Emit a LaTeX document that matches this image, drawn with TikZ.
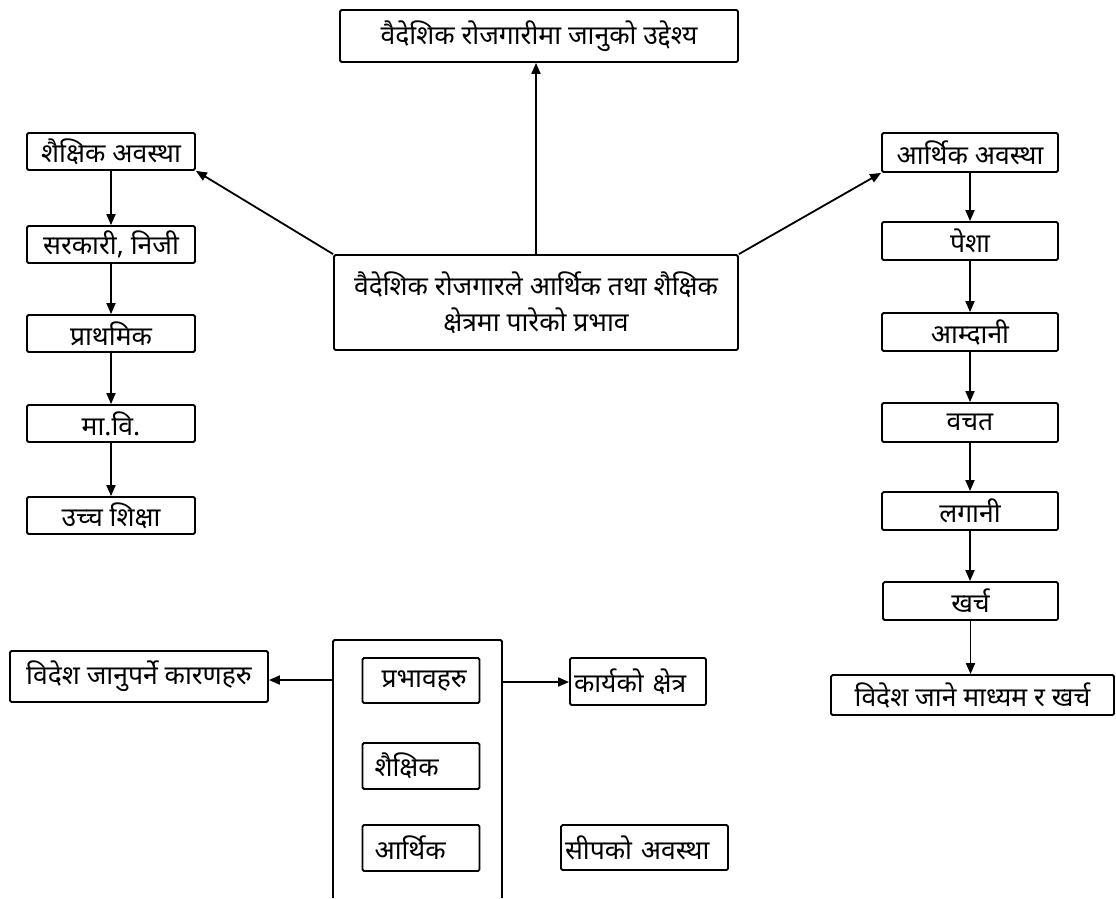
\documentclass[tikz,border=0pt]{standalone}
\usepackage{fontspec}
\newfontfamily\dev[Script=Devanagari]{Noto Sans}
\usetikzlibrary{arrows.meta}
\begin{document}
\begin{tikzpicture}[x=1pt,y=-1pt,
  box/.style={draw, line width=1.8pt, rounded corners=1.5pt, inner sep=0pt, font=\dev\fontsize{26.5}{36}\selectfont},
  lbox/.style={box, align=left, text width=#1},
  arr/.style={line width=1.8pt, -{Triangle[length=11pt,width=9pt]}},
  ln/.style={line width=1.8pt}]
\useasboundingbox (0,0) rectangle (1116,898);
% top and centre
\node[box, minimum width=398pt, minimum height=52pt] (top) at (539,36) {वैदेशिक रोजगारीमा जानुको उद्देश्य};
\node[box, minimum width=404pt, minimum height=95pt, align=center] (cen) at (536,302.5) {वैदेशिक रोजगारले आर्थिक तथा शैक्षिक\\क्षेत्रमा पारेको प्रभाव};
% left chain
\node[box, minimum width=168pt, minimum height=37pt] (l1) at (111,151.5) {शैक्षिक अवस्था};
\node[box, minimum width=168pt, minimum height=37pt] (l2) at (111,244.5) {सरकारी, निजी};
\node[box, minimum width=168pt, minimum height=37pt] (l3) at (111,333.5) {प्राथमिक};
\node[box, minimum width=168pt, minimum height=37pt] (l4) at (111,423.5) {मा.वि.};
\node[box, minimum width=168pt, minimum height=37pt] (l5) at (111,515.5) {उच्च शिक्षा};
% right chain
\node[box, minimum width=176pt, minimum height=39pt] (r1) at (970,152.5) {आर्थिक अवस्था};
\node[box, minimum width=176pt, minimum height=38pt] (r2) at (970,241) {पेशा};
\node[box, minimum width=176pt, minimum height=38pt] (r3) at (970,332) {आम्दानी};
\node[box, minimum width=176pt, minimum height=39pt] (r4) at (970,422.5) {वचत};
\node[box, minimum width=176pt, minimum height=38pt] (r5) at (970,511) {लगानी};
\node[box, minimum width=175pt, minimum height=38pt] (r6) at (970.5,601) {खर्च};
\node[box, minimum width=283pt, minimum height=40pt] (r7) at (972.5,695) {विदेश जाने माध्यम र खर्च};
% bottom
\node[box, minimum width=258pt, minimum height=51pt] (why) at (139,676.5) {विदेश जानुपर्ने कारणहरु};
\node[lbox=101pt, inner xsep=8pt, minimum height=45pt] (p1) at (421,680.5) {\hspace{11pt}प्रभावहरु};
\node[lbox=101pt, inner xsep=8pt, minimum height=46pt] (p2) at (421,766) {\hspace{4pt}शैक्षिक};
\node[lbox=101pt, inner xsep=8pt, minimum height=46pt] (p3) at (421,848) {\hspace{4pt}आर्थिक};
\node[lbox=128pt, inner xsep=4pt, minimum height=47pt] (work) at (638,681.5) {कार्यको क्षेत्र};
\node[lbox=159pt, inner xsep=4pt, minimum height=45pt] (skill) at (644.5,847.5) {सीपको अवस्था};
\coordinate (bl) at (333,898);
\coordinate (tl) at (333,640);
\coordinate (tr) at (502,640);
\coordinate (br) at (502,898);
\coordinate (outL) at (333,680);
\coordinate (outR) at (502,682);
\draw[ln, rounded corners=1.5pt] (bl) -- (tl) -- (tr) -- (br);
% connectors
\draw[arr] (cen.north) -- (cen.north |- top.south);
\draw[arr] (cen.north west) -- (l1.south east);
\draw[arr] (cen.north east) -- (r1.south west);
\draw[arr] (l1) -- (l2);
\draw[arr] (l2) -- (l3);
\draw[arr] (l3) -- (l4);
\draw[arr] (l4) -- (l5);
\draw[arr] (r1.south) -- (r2.north);
\draw[arr] (r2.south) -- (r3.north);
\draw[arr] (r3.south) -- (r4.north);
\draw[arr] (r4.south) -- (r5.north);
\draw[arr] (r5.south) -- (r5.south |- r6.north);
\draw[arr] (r6.south) -- (r6.south |- r7.north);
\draw[arr] (outL) -- (outL -| why.east);
\draw[arr] (outR) -- (outR -| work.west);
\end{tikzpicture}
\end{document}
